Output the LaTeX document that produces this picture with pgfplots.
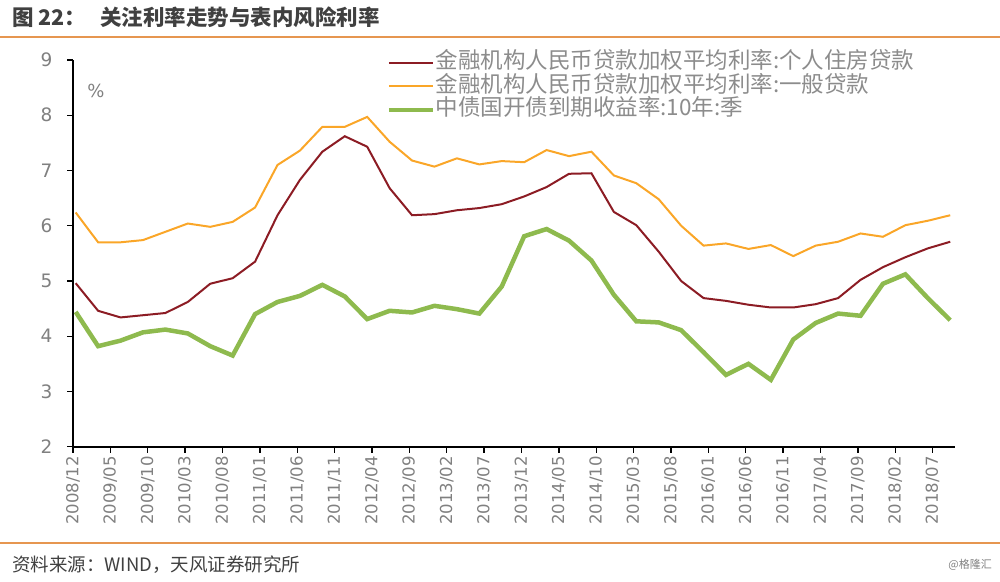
\documentclass[border=0pt]{standalone}
\usepackage{fontspec}
\setmainfont{DejaVu Sans}
\newfontfamily\cjk{Noto Sans CJK SC}
\usepackage{pgfplots}
\pgfplotsset{compat=1.18}
\usepackage{pgfplotstable}
\definecolor{brownc}{RGB}{140,28,36}
\definecolor{orangec}{RGB}{250,166,40}
\definecolor{greenc}{RGB}{142,186,78}
\definecolor{lblgray}{RGB}{128,128,128}
\definecolor{leggray}{RGB}{140,140,140}
\definecolor{titlegray}{RGB}{64,64,64}
\definecolor{rulec}{RGB}{230,150,80}

\pgfplotstableread{
x b o g
0.36 4.96 6.24 4.44
3.36 4.46 5.70 3.82
6.36 4.34 5.70 3.92
9.36 4.38 5.74 4.07
12.36 4.42 5.89 4.12
15.36 4.62 6.04 4.05
18.36 4.95 5.98 3.82
21.36 5.05 6.07 3.65
24.36 5.35 6.33 4.40
27.36 6.19 7.10 4.62
30.36 6.83 7.36 4.73
33.36 7.34 7.79 4.93
36.36 7.62 7.79 4.72
39.36 7.43 7.97 4.31
42.36 6.68 7.52 4.46
45.36 6.19 7.18 4.43
48.36 6.21 7.07 4.55
51.36 6.28 7.22 4.49
54.36 6.32 7.11 4.41
57.36 6.39 7.17 4.90
60.36 6.53 7.15 5.81
63.36 6.70 7.37 5.94
66.36 6.94 7.26 5.73
69.36 6.95 7.34 5.37
72.36 6.25 6.91 4.75
75.36 6.01 6.77 4.27
78.36 5.53 6.48 4.25
81.36 5.00 6.00 4.11
84.36 4.69 5.64 3.71
87.36 4.64 5.68 3.30
90.36 4.57 5.58 3.50
93.36 4.52 5.65 3.21
96.36 4.52 5.45 3.94
99.36 4.58 5.64 4.24
102.36 4.69 5.71 4.41
105.36 5.02 5.86 4.37
108.36 5.25 5.80 4.95
111.36 5.43 6.01 5.12
114.36 5.59 6.09 4.69
117.36 5.71 6.19 4.29
}\data

\begin{document}
\begin{tikzpicture}[x=1pt,y=1pt]
\path[use as bounding box] (0,0) rectangle (1000,581);
\node[anchor=west, text=titlegray, font=\cjk\bfseries\fontsize{21.5}{21.5}\selectfont, inner sep=0pt] at (12,564) {图 22：\hspace{14pt}关注利率走势与表内风险利率};
\draw[rulec, line width=2pt] (0,544) -- (1000,544);
\draw[rulec, line width=2pt] (0,38) -- (1000,38);
\node[anchor=west, text=titlegray, font=\cjk\fontsize{18.5}{18.5}\selectfont, inner sep=0pt] at (12,16) {资料来源：WIND，天风证券研究所};
\node[anchor=east, text=lblgray, font=\cjk\fontsize{11}{11}\selectfont, inner sep=0pt] at (992,16) {@格隆汇};
\begin{axis}[
  at={(73pt,134.3pt)}, anchor=south west,
  scale only axis, width=882pt, height=386.7pt,
  xmin=0, xmax=118, ymin=2, ymax=9,
  axis x line*=bottom, axis y line*=left,
  axis line style={-, black, line width=1.6pt},
  tick align=outside, major tick length=6pt,
  tick style={black, line width=1.4pt},
  xtick={0,5,...,115},
  xticklabels={2008/12,2009/05,2009/10,2010/03,2010/08,2011/01,2011/06,2011/11,2012/04,2012/09,2013/02,2013/07,2013/12,2014/05,2014/10,2015/03,2015/08,2016/01,2016/06,2016/11,2017/04,2017/09,2018/02,2018/07},
  xticklabel style={rotate=90, anchor=east, font=\fontsize{16.5}{16.5}\selectfont, text=lblgray},
  ytick={2,3,4,5,6,7,8,9},
  yticklabel style={font=\fontsize{18.5}{18.5}\selectfont, text=lblgray, xshift=-11pt},
  /pgf/number format/assume math mode=true,
  legend style={at={(0.352,1.028)}, anchor=north west, draw=none, fill=none,
    font=\cjk\fontsize{22.5}{22.5}\selectfont, text=leggray, row sep=0.5pt,
    nodes={inner sep=0.5pt, text height=17pt, text depth=5pt}},
  legend cell align=left,
  legend image code/.code={\draw[#1] (0pt,0pt) -- (44pt,0pt);},
  clip=false,
]
\addplot[brownc, line width=2pt, mark=none] table[x=x, y=b] {\data};
\addlegendentry{金融机构人民币贷款加权平均利率:个人住房贷款}
\addplot[orangec, line width=2pt, mark=none] table[x=x, y=o] {\data};
\addlegendentry{金融机构人民币贷款加权平均利率:一般贷款}
\addplot[greenc, line width=4.5pt, mark=none] table[x=x, y=g] {\data};
\addlegendentry{中债国开债到期收益率:10年:季}
\end{axis}
\node[text=lblgray, font=\fontsize{18}{18}\selectfont, inner sep=0pt] at (96,490) {\%};
\end{tikzpicture}
\end{document}
